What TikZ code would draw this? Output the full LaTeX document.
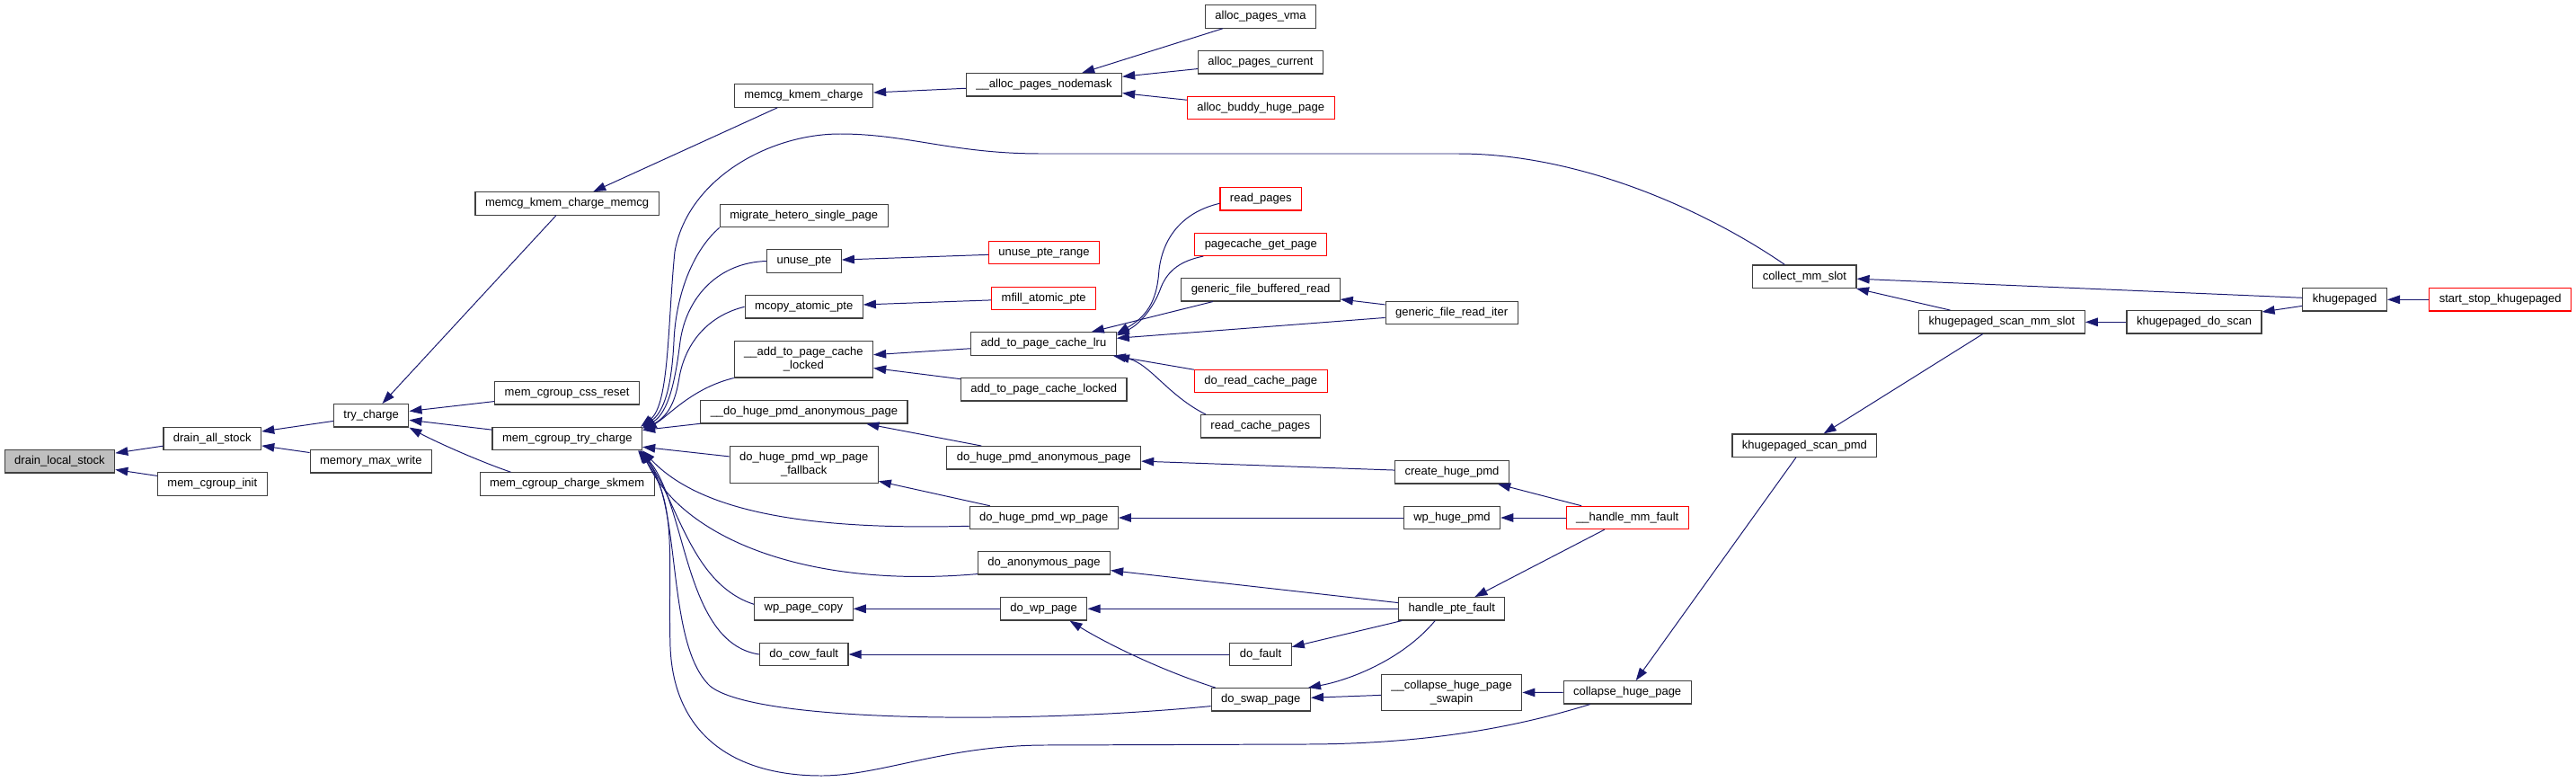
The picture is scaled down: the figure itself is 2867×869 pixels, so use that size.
\documentclass[tikz,border=0pt]{standalone}
\usepackage{fontspec}
\setmainfont{Liberation Sans}
\usepackage{xcolor}
\definecolor{edgeBlue}{HTML}{191970}
\definecolor{boxGrey}{gray}{0.75}
\definecolor{boxLine}{gray}{0.25}
\usepackage{tikz}
\usetikzlibrary{arrows.meta,calc}

\begin{document}
\begin{tikzpicture}[x=0.025cm, y=-0.025cm, >={Triangle[length=10pt,width=6.8pt]},
  fn/.style={draw=boxLine, line width=0.8pt, fill=white, inner xsep=7.8pt, inner ysep=0pt,
    minimum height=0.635cm, font=\fontsize{9.25pt}{10.6pt}\selectfont},
  fnRed/.style={fn, draw=red},
  fnTwo/.style={fn, align=center, minimum height=1.0125cm},
  callEdge/.style={<-, edgeBlue, line width=0.7pt}]
  \useasboundingbox (0,0) rectangle (2867,869);
  % ---------- charge side, left columns ----------
  \node[fn, fill=boxGrey] (drainLocal) at (66.5,513.3) {drain\_local\_stock};
  \node[fn] (drainAll) at (236.3,488) {drain\_all\_stock};
  \node[fn] (memcgInit) at (236.3,538.5) {mem\_cgroup\_init};
  \node[fn] (tryCharge) at (413.2,462.3) {try\_charge};
  \node[fn] (memMaxWrite) at (412.8,513.3) {memory\_max\_write};
  \node[fn] (kmemChargeMemcg) at (631.1,226.5) {memcg\_kmem\_charge\_memcg};
  \node[fn] (cssReset) at (631.1,437.3) {mem\_cgroup\_css\_reset};
  \node[fn] (mcgTryCharge) at (631.3,488) {mem\_cgroup\_try\_charge};
  \node[fn] (chargeSkmem) at (631.1,538.5) {mem\_cgroup\_charge\_skmem};
  % ---------- direct callers of mem_cgroup_try_charge ----------
  \node[fn] (kmemCharge) at (894.4,106.5) {memcg\_kmem\_charge};
  \node[fn] (migrateHetero) at (894.7,240) {migrate\_hetero\_single\_page};
  \node[fn] (unusePte) at (894.9,290.5) {unuse\_pte};
  \node[fn] (mcopyPte) at (894.7,341.3) {mcopy\_atomic\_pte};
  \node[fnTwo] (addLockedInt) at (894.4,399.7) {\_\_add\_to\_page\_cache\\\_locked};
  \node[fn] (doHugeAnonInt) at (894.9,458.3) {\_\_do\_huge\_pmd\_anonymous\_page};
  \node[fnTwo] (wpFallback) at (894.7,517) {do\_huge\_pmd\_wp\_page\\\_fallback};
  \node[fn] (wpPageCopy) at (894.4,677.3) {wp\_page\_copy};
  \node[fn] (doCowFault) at (894.7,728) {do\_cow\_fault};
  % ---------- next column ----------
  \node[fn] (allocNodemask) at (1162,94.3) {\_\_alloc\_pages\_nodemask};
  \node[fnRed] (unuseRange) at (1162,281.2) {unuse\_pte\_range};
  \node[fnRed] (mfillPte) at (1161.7,331.8) {mfill\_atomic\_pte};
  \node[fn] (addLru) at (1161.5,382.5) {add\_to\_page\_cache\_lru};
  \node[fn] (addLocked) at (1161.7,433.3) {add\_to\_page\_cache\_locked};
  \node[fn] (doHugeAnon) at (1161.7,509.3) {do\_huge\_pmd\_anonymous\_page};
  \node[fn] (doHugeWp) at (1161.7,576) {do\_huge\_pmd\_wp\_page};
  \node[fn] (doAnon) at (1162,626.3) {do\_anonymous\_page};
  \node[fn] (doWpPage) at (1161.7,677.3) {do\_wp\_page};
  % ---------- page allocation and page cache callers ----------
  \node[fn] (allocVma) at (1403,18.5) {alloc\_pages\_vma};
  \node[fn] (allocCurrent) at (1403,69.3) {alloc\_pages\_current};
  \node[fnRed] (allocBuddy) at (1403.3,120) {alloc\_buddy\_huge\_page};
  \node[fnRed] (readPages) at (1403.3,221.3) {read\_pages};
  \node[fnRed] (pagecacheGet) at (1403.3,271.8) {pagecache\_get\_page};
  \node[fn] (bufferedRead) at (1403,322.3) {generic\_file\_buffered\_read};
  \node[fnRed] (doReadCache) at (1403.3,424) {do\_read\_cache\_page};
  \node[fn] (readCachePages) at (1402.8,474.3) {read\_cache\_pages};
  \node[fn] (doFault) at (1403,728) {do\_fault};
  \node[fn] (doSwapPage) at (1403.3,778.3) {do\_swap\_page};
  % ---------- fault handling ----------
  \node[fn] (fileReadIter) at (1615.6,347.8) {generic\_file\_read\_iter};
  \node[fn] (createHugePmd) at (1616,525.3) {create\_huge\_pmd};
  \node[fn] (wpHugePmd) at (1616,576) {wp\_huge\_pmd};
  \node[fn] (handlePteFault) at (1615.8,677.3) {handle\_pte\_fault};
  \node[fnTwo] (collapseSwapin) at (1615.6,770.5) {\_\_collapse\_huge\_page\\\_swapin};
  \node[fnRed] (handleMmFault) at (1811.2,576) {\_\_handle\_mm\_fault};
  \node[fn] (collapseHuge) at (1811.2,770.3) {collapse\_huge\_page};
  % ---------- khugepaged ----------
  \node[fn] (collectSlot) at (2008.4,307.7) {collect\_mm\_slot};
  \node[fn] (scanPmd) at (2008.4,495.7) {khugepaged\_scan\_pmd};
  \node[fn] (scanMmSlot) at (2228,358.3) {khugepaged\_scan\_mm\_slot};
  \node[fn] (doScan) at (2442,358.3) {khugepaged\_do\_scan};
  \node[fn] (khugepaged) at (2609.6,333.3) {khugepaged};
  \node[fnRed] (startStop) at (2782.7,333.3) {start\_stop\_khugepaged};

  % ---------- straight calls ----------
  \draw[callEdge] (drainLocal) -- (drainAll);
  \draw[callEdge] (drainLocal) -- (memcgInit);
  \draw[callEdge] (drainAll) -- (tryCharge);
  \draw[callEdge] (drainAll) -- (memMaxWrite);
  \draw[callEdge] (tryCharge) -- (kmemChargeMemcg);
  \draw[callEdge] (tryCharge) -- (cssReset);
  \draw[callEdge] (tryCharge) -- (mcgTryCharge);
  \draw[callEdge] (kmemChargeMemcg) -- (kmemCharge);
  \draw[callEdge] (kmemCharge) -- (allocNodemask);
  \draw[callEdge] (allocNodemask) -- (allocVma);
  \draw[callEdge] (allocNodemask) -- (allocCurrent);
  \draw[callEdge] (allocNodemask) -- (allocBuddy);
  \draw[callEdge] (mcgTryCharge) -- (doHugeAnonInt);
  \draw[callEdge] (mcgTryCharge) -- (wpFallback);
  \draw[callEdge] (unusePte) -- (unuseRange);
  \draw[callEdge] (mcopyPte) -- (mfillPte);
  \draw[callEdge] (addLockedInt) -- (addLru);
  \draw[callEdge] (addLockedInt) -- (addLocked);
  \draw[callEdge] (addLru) -- (bufferedRead);
  \draw[callEdge] (addLru) -- (fileReadIter);
  \draw[callEdge] (addLru) -- (doReadCache);
  \draw[callEdge] (bufferedRead) -- (fileReadIter);
  \draw[callEdge] (doHugeAnonInt) -- (doHugeAnon);
  \draw[callEdge] (doHugeAnon) -- (createHugePmd);
  \draw[callEdge] (wpFallback) -- (doHugeWp);
  \draw[callEdge] (doHugeWp) -- (wpHugePmd);
  \draw[callEdge] (createHugePmd) -- (handleMmFault);
  \draw[callEdge] (wpHugePmd) -- (handleMmFault);
  \draw[callEdge] (handlePteFault) -- (handleMmFault);
  \draw[callEdge] (doAnon) -- (handlePteFault);
  \draw[callEdge] (doWpPage) -- (handlePteFault);
  \draw[callEdge] (doFault) -- (handlePteFault);
  \draw[callEdge] (wpPageCopy) -- (doWpPage);
  \draw[callEdge] (doCowFault) -- (doFault);
  \draw[callEdge] (doSwapPage) -- (collapseSwapin);
  \draw[callEdge] (collapseSwapin) -- (collapseHuge);
  \draw[callEdge] (collapseHuge) -- (scanPmd);
  \draw[callEdge] (scanPmd) -- (scanMmSlot);
  \draw[callEdge] (collectSlot) -- (scanMmSlot);
  \draw[callEdge] (collectSlot) -- (khugepaged);
  \draw[callEdge] (scanMmSlot) -- (doScan);
  \draw[callEdge] (doScan) -- (khugepaged);
  \draw[callEdge] (khugepaged) -- (startStop);

  % ---------- curved calls ----------
  \draw[callEdge] (tryCharge.south east) .. controls (482,490) and (530,512) .. ($(chargeSkmem.north west)+(35,0)$);
  % upper fan into mem_cgroup_try_charge
  \draw[callEdge] ($(mcgTryCharge.north east)+(-2,0)$) .. controls (745,450) and (743,360) .. (751,280)
    .. controls (765,200) and (855,149) .. (935,149) .. controls (1010,149) and (1060,171) .. (1159,171)
    -- (1623,171) .. controls (1760,171) and (1900,235) .. ($(collectSlot.north)+(-22,0)$);
  \draw[callEdge] ($(mcgTryCharge.north east)+(0,1)$) .. controls (742,455) and (748,420) .. (750,380)
    .. controls (752,330) and (770,280) .. (migrateHetero.south west);
  \draw[callEdge] ($(mcgTryCharge.north east)+(0,2)$) .. controls (745,458) and (752,420) .. (757,380)
    .. controls (764,330) and (800,292) .. (unusePte.west);
  \draw[callEdge] ($(mcgTryCharge.north east)+(1,3)$) .. controls (745,462) and (752,445) .. (756,420)
    .. controls (762,385) and (785,352) .. (mcopyPte.west);
  \draw[callEdge] ($(mcgTryCharge.north east)+(2,4)$) .. controls (745,462) and (770,432) .. (addLockedInt.south west);
  % lower fan into mem_cgroup_try_charge
  \draw[callEdge] (mcgTryCharge.south east) .. controls (780,570) and (900,590) .. ($(doHugeWp.south west)+(0,-4)$);
  \draw[callEdge] ($(mcgTryCharge.south east)+(-1,0)$) .. controls (760,600) and (900,655) .. ($(doAnon.south west)+(0,-1)$);
  \draw[callEdge] ($(mcgTryCharge.south east)+(-2,0)$) .. controls (755,560) and (770,650) .. ($(wpPageCopy.west)+(0,-5)$);
  \draw[callEdge] ($(mcgTryCharge.south east)+(-3,0)$) .. controls (765,560) and (760,715) .. (doCowFault.west);
  \draw[callEdge] ($(mcgTryCharge.south east)+(-4,0)$) .. controls (760,560) and (740,715) .. (790,763)
    .. controls (840,805) and (1150,805) .. ($(doSwapPage.south west)+(0,-6)$);
  \draw[callEdge] ($(mcgTryCharge.south east)+(-5,0)$) .. controls (755,560) and (743,620) .. (746,720)
    .. controls (750,820) and (820,863) .. (914,863) .. controls (980,863) and (1050,830) .. (1160,829)
    -- (1450,828) .. controls (1600,828) and (1700,805) .. ($(collapseHuge.south west)+(30,0)$);
  % page cache lru fan
  \draw[callEdge] ($(addLru.north east)+(0,2)$) .. controls (1280,350) and (1288,330) .. (1290,300)
    .. controls (1295,260) and (1320,235) .. ($(readPages.west)+(0,5)$);
  \draw[callEdge] ($(addLru.north east)+(0,4)$) .. controls (1270,360) and (1285,340) .. (1292,320)
    .. controls (1300,300) and (1315,290) .. ($(pagecacheGet.south west)+(10,0)$);
  \draw[callEdge] (addLru.south east) .. controls (1280,405) and (1300,440) .. ($(readCachePages.north west)+(6,0)$);
  % swap page
  \draw[callEdge] ($(doWpPage.south east)+(-20,0)$) .. controls (1230,715) and (1290,745) .. ($(doSwapPage.north west)+(5,0)$);
  \draw[callEdge] ($(doSwapPage.north east)+(-3,0)$) .. controls (1500,757) and (1560,735) .. ($(handlePteFault.south west)+(41,0)$);
\end{tikzpicture}
\end{document}
